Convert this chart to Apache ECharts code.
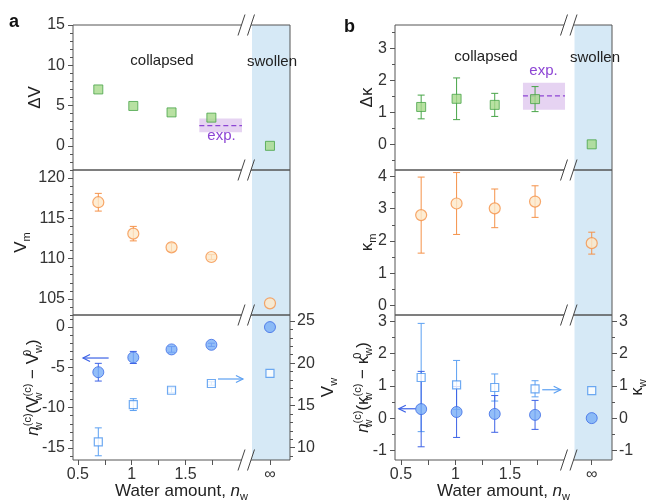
<!DOCTYPE html>
<html>
<head>
<meta charset="utf-8">
<script src="https://cdn.jsdelivr.net/npm/echarts@6/dist/echarts.min.js"></script>
<style>
  html, body { margin: 0; padding: 0; background: #fff; }
  #chart { width: 649px; height: 501px; }
</style>
</head>
<body>
<div id="chart"></div>
<script>
// ---------- data ----------
// water amount n_w of the collapsed states; the swollen state is drawn at "∞"
const nwA = [0.69, 1.015, 1.37, 1.74];
const nwB = [0.685, 1.01, 1.36, 1.73];
const infA = 2.284;            // x position used for n_w = ∞ in panel a
const infB = 2.25;             // x position used for n_w = ∞ in panel b
const xMajorTicks = [0.5, 1, 1.5];
const xMinorTicks = [0.75, 1.25, 1.75];

// panel a
const dV = [7.0, 4.95, 4.15, 3.5];
const dVInf = 0;
const Vm = [117.0, 113.1, 111.4, 110.2];
const VmErr = [1.1, 0.9, 0.5, 0.3];
const VmInf = 104.45;
const dVw = [-5.6, -3.77, -2.77, -2.2];
const dVwErr = [1.1, 0.75, 0.35, 0.2];
const dVwInf = 0;
const Vw = [10.7, 15.1, 16.8, 17.6];
const VwErr = [1.65, 0.7, 0.3, 0.2];
const VwInf = 18.8;
const expV = 2.5;
const expVRange = [1.69, 3.38];

// panel b
const dK = [1.165, 1.42, 1.23, 1.41];
const dKErr = [0.37, 0.65, 0.36, 0.39];
const dKInf = 0;
const Km = [2.8, 3.16, 3.01, 3.22];
const KmErr = [1.18, 0.96, 0.6, 0.49];
const KmInf = 1.93;
const KmInfErr = 0.34;
const dKw = [0.28, 0.19, 0.13, 0.1];
const dKwErr = [1.17, 0.79, 0.57, 0.45];
const dKwInf = 0;
const Kw = [1.26, 1.03, 0.95, 0.91];
const KwErr = [1.68, 0.76, 0.42, 0.25];
const KwInf = 0.85;
const expK = 1.51;
const expKRange = [1.08, 1.92];

// ---------- styling ----------
const FONT = '"Liberation Sans", Arial, Helvetica, sans-serif';
const AX = '#555';
const TXT = '#333';
const SWOLLEN = '#d6e9f6';
const PURPLE = '#8d45d4';
const PURPLE_BAND = '#e6d3f2';
const GREEN = { color: '#a6d98b', borderColor: '#47a447', borderWidth: 1 };
const ORANGE = { color: '#fde9c9', borderColor: '#f59249', borderWidth: 1.2 };
const BLUE_DOT = { color: '#78aef6', borderColor: '#3c6ce6', borderWidth: 1 };
const BLUE_SQ = { color: '#ffffff', borderColor: '#4b95ef', borderWidth: 1.2 };
const ERR_ORANGE = '#f59249', ERR_GREEN = '#47a447', ERR_DARK = '#3c62e6', ERR_LIGHT = '#5ca0f2';

const ROW_TOPS = [25, 170, 315];
const ROW_H = 145;
const PANEL_W = 217;
const panels = [
  { left: 73, xMin: 0.455, xMax: 2.47, swollenFrom: 2.117, inf: infA, expX: [1.628, 2.024] },
  { left: 395, xMin: 0.445, xMax: 2.436, swollenFrom: 2.092, inf: infB, expX: [1.619, 2.005] }
];

const baseTok = { fontFamily: FONT, fontSize: 17, color: '#222', lineHeight: 22, verticalAlign: 'middle' };
const smallTok = { fontFamily: FONT, fontSize: 11, color: '#222', lineHeight: 11 };
const rich = {
  t: Object.assign({}, baseTok),
  it: Object.assign({}, baseTok, { fontStyle: 'italic' }),
  sub: Object.assign({}, smallTok, { verticalAlign: 'bottom' }),
  subz: Object.assign({}, smallTok, { verticalAlign: 'bottom', width: 0 }),
  sup: Object.assign({}, smallTok, { verticalAlign: 'top' }),
  supz: Object.assign({}, smallTok, { verticalAlign: 'top', width: 0 })
};
const nameStyle = { fontFamily: FONT, fontSize: 17, color: '#222', lineHeight: 22, rich: rich };

function tickRange(lo, hi, step, skipMultipleOf) {
  const out = [];
  const start = Math.ceil(lo / step - 1e-9) * step;
  for (let v = start; v <= hi + 1e-9; v += step) {
    const r = Math.round(v * 1000) / 1000;
    if (skipMultipleOf && Math.abs(r / skipMultipleOf - Math.round(r / skipMultipleOf)) < 1e-6) continue;
    out.push(r);
  }
  return out;
}

// y axes of every row: range, labelled ticks, minor step
const yCfg = [
  [ // panel a
    { min: -3, max: 15, major: [0, 5, 10, 15], minorStep: 1, majorStep: 5, name: '{t|ΔV}', gap: 27 },
    { min: 103, max: 121, major: [105, 110, 115, 120], minorStep: 1, majorStep: 5, name: '{t|V}{sub|m}', gap: 41 },
    { min: -16.5, max: 1.5, major: [-15, -10, -5, 0], minorStep: 1, majorStep: 5,
      name: '{it|n}{subz|w}{sup|(c)}{t|(V}{subz|w}{sup|(c)}{t| − V}{supz|0}{sub|w}{t|)}', gap: 29,
      right: { min: 8.55, max: 25.7, major: [10, 15, 20, 25], minorStep: 1, majorStep: 5, name: '{t|V}{sub|w}', gap: 27 } }
  ],
  [ // panel b
    { min: -0.8, max: 3.72, major: [0, 1, 2, 3], minorStep: 0.5, majorStep: 1, name: '{t|Δκ}', gap: 17 },
    { min: -0.3, max: 4.2, major: [0, 1, 2, 3, 4], minorStep: 0.5, majorStep: 1, name: '{t|κ}{sub|m}', gap: 17 },
    { min: -1.3, max: 3.2, major: [-1, 0, 1, 2, 3], minorStep: 0.5, majorStep: 1,
      name: '{it|n}{subz|w}{sup|(c)}{t|(κ}{subz|w}{sup|(c)}{t| − κ}{supz|0}{sub|w}{t|)}', gap: 21,
      right: { min: -1.3, max: 3.2, major: [-1, 0, 1, 2, 3], minorStep: 0.5, majorStep: 1, name: '{t|κ}{sub|w}', gap: 14 } }
  ]
];

const grids = [], xAxes = [], yAxes = [], series = [];
const leftAxisOf = [], rightAxisOf = [];

function addY(gridIndex, cfg, side) {
  const major = {
    type: 'value', gridIndex, position: side, offset: 0, min: cfg.min, max: cfg.max,
    axisLine: { show: false, onZero: false },
    splitLine: { show: false },
    axisTick: { show: true, inside: false, length: 5, lineStyle: { color: AX, width: 1 }, customValues: cfg.major },
    axisLabel: { show: true, margin: side === 'left' ? 8 : 7, fontFamily: FONT, fontSize: 16, color: TXT, customValues: cfg.major },
    name: cfg.name, nameLocation: 'middle', nameRotate: 90, nameGap: cfg.gap,
    nameTextStyle: nameStyle, nameMoveOverlap: false
  };
  yAxes.push(major);
  const idx = yAxes.length - 1;
  yAxes.push({
    type: 'value', gridIndex, position: side, offset: 0, min: cfg.min, max: cfg.max,
    axisLine: { show: false, onZero: false },
    splitLine: { show: false },
    axisTick: { show: true, inside: false, length: 3, lineStyle: { color: AX, width: 1 },
      customValues: tickRange(cfg.min, cfg.max, cfg.minorStep, cfg.majorStep) },
    axisLabel: { show: false }
  });
  return idx;
}

panels.forEach((p, pi) => {
  ROW_TOPS.forEach((top, ri) => {
    const g = grids.length;
    grids.push({
      show: true, left: p.left, top: top, width: PANEL_W, height: ROW_H,
      backgroundColor: 'transparent', borderColor: AX, borderWidth: 1, z: 10,
      containLabel: false, outerBoundsMode: 'none'
    });
    const bottomRow = ri === 2;
    const tickVals = xMajorTicks.concat(xMinorTicks, [p.inf]);
    xAxes.push({
      type: 'value', gridIndex: g, position: 'bottom', min: p.xMin, max: p.xMax,
      axisLine: { show: false, onZero: false },
      splitLine: { show: false },
      axisTick: { show: bottomRow, inside: false, length: 5, lineStyle: { color: AX }, customValues: tickVals },
      axisLabel: {
        show: bottomRow, margin: 7, fontFamily: FONT, fontSize: 16, color: TXT,
        customValues: xMajorTicks.concat([p.inf]),
        formatter: v => (Math.abs(v - p.inf) < 1e-6 ? '∞' : String(v))
      },
      name: bottomRow ? '{t|Water amount, }{it|n}{sub|w}' : '',
      nameLocation: 'middle', nameGap: 20, nameTextStyle: nameStyle, nameMoveOverlap: false
    });
    const cfg = yCfg[pi][ri];
    leftAxisOf[g] = addY(g, cfg, 'left');
    if (cfg.right) rightAxisOf[g] = addY(g, cfg.right, 'right');
  });
});

// ---------- custom renderers ----------
function errorBars(color) {
  return function (params, api) {
    const x = api.value(0);
    const lo = api.coord([x, api.value(1)]);
    const hi = api.coord([x, api.value(2)]);
    const w = 3.5;
    const st = { stroke: color, lineWidth: 1 };
    return {
      type: 'group', children: [
        { type: 'line', shape: { x1: lo[0], y1: lo[1], x2: hi[0], y2: hi[1] }, style: st },
        { type: 'line', shape: { x1: lo[0] - w, y1: lo[1], x2: lo[0] + w, y2: lo[1] }, style: st },
        { type: 'line', shape: { x1: hi[0] - w, y1: hi[1], x2: hi[0] + w, y2: hi[1] }, style: st }
      ]
    };
  };
}
function arrows(color) {
  return function (params, api) {
    const y = api.value(2);
    const a = api.coord([api.value(0), y]);
    const b = api.coord([api.value(1), y]);
    const d = Math.sign(b[0] - a[0]);
    const st = { stroke: color, lineWidth: 1.2, fill: null };
    return {
      type: 'group', children: [
        { type: 'line', shape: { x1: a[0], y1: a[1], x2: b[0], y2: b[1] }, style: st },
        { type: 'polyline', shape: { points: [[b[0] - d * 7, b[1] - 3.5], [b[0], b[1]], [b[0] - d * 7, b[1] + 3.5]] }, style: st }
      ]
    };
  };
}

const pts = (xs, ys, xInf, yInf) => xs.map((x, i) => [x, ys[i]]).concat(yInf == null ? [] : [[xInf, yInf]]);
const bars = (xs, ys, es) => xs.map((x, i) => [x, ys[i] - es[i], ys[i] + es[i]]);

function scatter(g, yi, data, symbol, size, style) {
  return { type: 'scatter', xAxisIndex: g, yAxisIndex: yi, data, symbol, symbolSize: size,
    itemStyle: style, z: 4, silent: true };
}
function errSeries(g, yi, data, color) {
  return { type: 'custom', xAxisIndex: g, yAxisIndex: yi, data, renderItem: errorBars(color), z: 3, silent: true };
}
function swollenBand(g, p) {
  return { type: 'line', xAxisIndex: g, yAxisIndex: leftAxisOf[g], data: [], silent: true,
    markArea: { silent: true, label: { show: false }, itemStyle: { color: SWOLLEN },
      data: [[{ xAxis: p.swollenFrom }, { xAxis: p.xMax }]] } };
}
function expSeries(g, p, val, range) {
  return { type: 'line', xAxisIndex: g, yAxisIndex: leftAxisOf[g], z: 2, silent: true,
    data: [[p.expX[0], val], [p.expX[1], val]], symbol: 'none',
    lineStyle: { color: PURPLE, width: 1.3, type: [5, 3] },
    markArea: { silent: true, label: { show: false }, itemStyle: { color: PURPLE_BAND },
      data: [[{ coord: [p.expX[0], range[0]] }, { coord: [p.expX[1], range[1]] }]] } };
}

const pa = panels[0], pb = panels[1];
for (let g = 0; g < 6; g++) series.push(swollenBand(g, panels[Math.floor(g / 3)]));

// panel a
series.push(expSeries(0, pa, expV, expVRange));
series.push(scatter(0, leftAxisOf[0], pts(nwA, dV, infA, dVInf), 'rect', 9, GREEN));
series.push(errSeries(1, leftAxisOf[1], bars(nwA, Vm, VmErr), ERR_ORANGE));
series.push(scatter(1, leftAxisOf[1], pts(nwA, Vm, infA, VmInf), 'circle', 11, ORANGE));
series.push(errSeries(2, leftAxisOf[2], bars(nwA, dVw, dVwErr), ERR_DARK));
series.push(scatter(2, leftAxisOf[2], pts(nwA, dVw, infA, dVwInf), 'circle', 11, BLUE_DOT));
series.push(errSeries(2, rightAxisOf[2], bars(nwA, Vw, VwErr), ERR_LIGHT));
series.push(scatter(2, rightAxisOf[2], pts(nwA, Vw, infA, VwInf), 'rect', 8, BLUE_SQ));
series.push({ type: 'custom', xAxisIndex: 2, yAxisIndex: leftAxisOf[2], data: [[0.786, 0.548, -3.84]], renderItem: arrows(ERR_DARK), z: 3, silent: true });
series.push({ type: 'custom', xAxisIndex: 2, yAxisIndex: rightAxisOf[2], data: [[1.801, 2.033, 18.13]], renderItem: arrows(ERR_LIGHT), z: 3, silent: true });

// panel b
series.push(expSeries(3, pb, expK, expKRange));
series.push(errSeries(3, leftAxisOf[3], bars(nwB, dK, dKErr), ERR_GREEN));
series.push(scatter(3, leftAxisOf[3], pts(nwB, dK, infB, dKInf), 'rect', 9, GREEN));
series.push(errSeries(4, leftAxisOf[4], bars(nwB.concat([infB]), Km.concat([KmInf]), KmErr.concat([KmInfErr])), ERR_ORANGE));
series.push(scatter(4, leftAxisOf[4], pts(nwB, Km, infB, KmInf), 'circle', 11, ORANGE));
series.push(errSeries(5, rightAxisOf[5], bars(nwB, Kw, KwErr), ERR_LIGHT));
series.push(errSeries(5, leftAxisOf[5], bars(nwB, dKw, dKwErr), ERR_DARK));
series.push(scatter(5, rightAxisOf[5], pts(nwB, Kw, infB, KwInf), 'rect', 8, BLUE_SQ));
series.push(scatter(5, leftAxisOf[5], pts(nwB, dKw, infB, dKwInf), 'circle', 11, BLUE_DOT));
series.push({ type: 'custom', xAxisIndex: 5, yAxisIndex: leftAxisOf[5], data: [[0.635, 0.48, 0.29]], renderItem: arrows(ERR_DARK), z: 3, silent: true });
series.push({ type: 'custom', xAxisIndex: 5, yAxisIndex: rightAxisOf[5], data: [[1.796, 1.965, 0.88]], renderItem: arrows(ERR_LIGHT), z: 3, silent: true });

const chart = echarts.init(document.getElementById('chart'), null, { renderer: 'canvas' });
chart.setOption({
  animation: false,
  backgroundColor: '#fff',
  grid: grids,
  xAxis: xAxes,
  yAxis: yAxes,
  series: series
});

// ---------- annotations and axis-break marks ----------
function label(text, x, y, size, color, opts) {
  return Object.assign({
    type: 'text', x, y, z: 120, silent: true,
    style: { text, font: (opts && opts.bold ? 'bold ' : '') + size + 'px ' + FONT, fill: color,
      align: (opts && opts.align) || 'center', verticalAlign: 'middle' }
  });
}
const gfx = [
  label('a', 9, 22.5, 18, '#111', { bold: true, align: 'left' }),
  label('b', 344, 27.5, 18, '#111', { bold: true, align: 'left' }),
  label('collapsed', 162, 60.5, 15, '#222'),
  label('swollen', 272, 61.5, 15, '#222'),
  label('exp.', 221.5, 136, 15, PURPLE),
  label('collapsed', 486, 57, 15, '#222'),
  label('swollen', 595, 58, 15, '#222'),
  label('exp.', 543.5, 71, 15, PURPLE)
];
panels.forEach((p, pi) => {
  const xb = chart.convertToPixel({ xAxisIndex: pi * 3 }, p.swollenFrom);
  const c1 = xb - 10.5, c2 = xb - 1;
  const edges = ROW_TOPS.concat([ROW_TOPS[2] + ROW_H]);
  edges.forEach(y => {
    gfx.push({ type: 'polygon', z: 110, silent: true,
      shape: { points: [[c1 + 1, y - 3], [c2 + 1, y - 3], [c2 - 1, y + 3], [c1 - 1, y + 3]] },
      style: { fill: '#fff' } });
    [c1, c2].forEach(c => gfx.push({ type: 'line', z: 111, silent: true,
      shape: { x1: c - 3.5, y1: y + 10.5, x2: c + 3.5, y2: y - 10.5 },
      style: { stroke: '#444', lineWidth: 1 } }));
  });
});
chart.setOption({ graphic: gfx });
</script>
</body>
</html>
